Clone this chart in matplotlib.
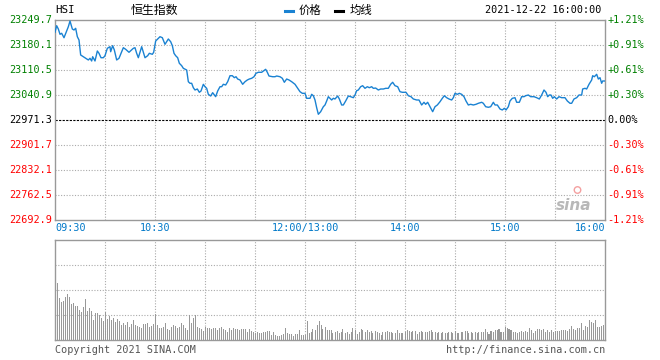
import numpy as np
import matplotlib
matplotlib.use("Agg")
import matplotlib.pyplot as plt

plt.rcParams['font.family'] = ['DejaVu Sans Mono', 'Noto Sans CJK SC']

PREV_CLOSE = 22971.3
W, H = 660, 360

# minutes since 09:30 (lunch break removed, 330 trading minutes)
minutes = [0, 1, 2, 3, 4, 5.4, 7, 8, 9, 10.4, 11.4, 12.4, 13.4, 14.4, 15.4, 17, 18.4, 20, 21, 22,
           22.6, 24, 25.4, 26.4, 27.6, 29, 30, 31.4, 33, 33.4, 34.6, 35.6, 37, 38.4, 39.4, 41, 42.4,
           44.4, 47, 48, 49, 50, 52, 53, 54, 55.6, 56.6, 58.4, 59.2, 60.4, 61.6, 63, 64.4, 66, 67, 68,
           69.4, 70.4, 71.4, 72.4, 73.6, 74.6, 76, 77, 79, 79.6, 80, 81, 82, 83, 84, 85.4, 86.6, 87.6,
           89, 90, 91, 92, 93.4, 94.6, 95.6, 96.4, 97.6, 99, 100, 101, 102.4, 103.6, 105, 106.4, 107.6,
           108.6, 109.6, 111, 112.6, 114, 115.4, 116.6, 118, 119.4, 120.6, 122, 124, 125, 126.4, 127.4,
           128.4, 130.6, 132, 133, 135, 136.4, 137.6, 139, 140.4, 142, 144, 145.4, 147, 148.4, 150,
           151, 153, 154, 155, 156, 157, 158, 159.4, 161, 162, 163, 164, 165, 166, 167, 168, 169.6,
           170.6, 172, 173, 174.4, 176, 177.4, 179, 180, 181, 182, 183.4, 184.6, 186, 187.4, 188.6,
           190, 191, 192.4, 194, 195.4, 197, 198.4, 200, 201.4, 202.6, 204, 205.6, 207, 208.4, 210.6,
           212, 213.6, 215, 217, 218.4, 220, 221.4, 222.4, 223.6, 225, 226.6, 228, 229.4, 231, 232.4,
           233.6, 235, 236.4, 238, 239, 240, 241.4, 242.6, 244, 245.4, 246.6, 248, 249.4, 251, 252.6,
           254, 256, 257, 258.4, 260, 261.4, 263, 264, 265.4, 267, 268.4, 269.6, 270.6, 272, 273,
           274.4, 276, 277, 278.6, 280, 281.4, 282.4, 284, 285.4, 287.4, 289, 290.6, 292, 293.4,
           294.6, 295.6, 296.6, 297.6, 298.6, 299.6, 301, 302.4, 304, 306, 307.4, 309, 310, 311.4,
           313, 314.4, 316, 316.6, 318, 319, 320.4, 322, 322.6, 323.6, 325, 326, 327, 328, 328.6, 330]

prices = [23215.5, 23233.8, 23224.6, 23209.9, 23212.7, 23200.4, 23219.1, 23231.0, 23246.9, 23224.6,
          23221.9, 23226.6, 23203.2, 23194.0, 23152.3, 23147.5, 23143.1, 23138.4, 23143.1, 23135.6,
          23147.5, 23135.6, 23163.4, 23157.0, 23144.7, 23144.7, 23150.3, 23170.9, 23175.4, 23161.4,
          23178.2, 23166.2, 23138.4, 23143.1, 23154.2, 23172.6, 23168.1, 23159.8, 23170.9, 23172.6,
          23157.0, 23144.7, 23175.4, 23159.8, 23144.7, 23150.3, 23157.0, 23154.2, 23159.8, 23191.2,
          23196.8, 23203.2, 23200.4, 23182.0, 23189.3, 23196.8, 23189.3, 23178.2, 23157.0, 23150.3,
          23144.7, 23129.2, 23122.5, 23115.2, 23110.5, 23091.8, 23077.9, 23073.5, 23073.5, 23061.2,
          23054.8, 23057.6, 23048.4, 23052.0, 23070.7, 23064.0, 23059.5, 23042.8, 23038.1, 23047.3,
          23040.9, 23036.2, 23052.0, 23064.0, 23064.0, 23070.7, 23068.8, 23077.9, 23094.6, 23094.6,
          23089.1, 23091.8, 23085.4, 23082.7, 23070.7, 23077.9, 23082.7, 23085.4, 23087.4, 23091.8,
          23101.3, 23104.1, 23104.1, 23107.7, 23112.4, 23104.1, 23093.8, 23091.8, 23091.8, 23093.8,
          23091.8, 23087.4, 23076.3, 23085.4, 23082.7, 23077.9, 23070.7, 23061.2, 23050.1, 23045.6,
          23045.6, 23031.7, 23031.7, 23042.8, 23038.9, 23027.0, 23005.5, 22987.2, 22994.4, 23008.3,
          23013.1, 23024.2, 23036.2, 23031.7, 23027.0, 23031.7, 23029.8, 23038.1, 23029.8, 23013.1,
          23013.1, 23024.2, 23038.1, 23036.2, 23033.4, 23040.9, 23052.9, 23054.8, 23064.0, 23066.8,
          23059.5, 23064.0, 23061.2, 23064.0, 23059.5, 23060.3, 23054.8, 23057.6, 23057.6, 23059.5,
          23059.5, 23070.7, 23076.3, 23066.8, 23064.0, 23050.1, 23048.4, 23048.4, 23038.9, 23036.2,
          23029.8, 23027.0, 23027.0, 23013.1, 23020.6, 23015.0, 23020.6, 23008.3, 22994.4, 23008.3,
          23013.1, 23022.2, 23031.7, 23038.9, 23033.4, 23029.8, 23027.0, 23033.4, 23045.6, 23042.8,
          23045.6, 23042.8, 23036.2, 23024.2, 23013.1, 23015.0, 23013.1, 23015.0, 23017.8, 23020.6,
          23017.8, 23008.3, 23006.7, 23008.3, 23020.6, 23013.1, 23013.1, 23001.9, 22999.2, 23003.9,
          22999.2, 23008.3, 23024.2, 23031.7, 23033.4, 23020.6, 23020.6, 23036.2, 23036.2, 23038.9,
          23040.9, 23036.2, 23036.2, 23033.4, 23029.8, 23040.9, 23054.8, 23048.4, 23036.2, 23040.9,
          23040.9, 23031.7, 23036.2, 23029.8, 23036.2, 23033.4, 23033.4, 23024.2, 23017.8, 23017.8,
          23029.8, 23033.4, 23040.9, 23040.9, 23057.6, 23059.5, 23057.6, 23070.7, 23082.7, 23094.6,
          23091.8, 23098.5, 23085.4, 23089.1, 23073.5, 23079.9, 23079.9]

volumes = [57, 42, 38, 39, 43, 46, 43, 36, 37, 34, 34, 30, 28, 33, 41, 29, 32, 29, 20, 27,
           27, 25, 22, 19, 28, 21, 24, 20, 22, 18, 21, 19, 15, 17, 15, 18, 13, 16, 20, 15,
           14, 13, 12, 16, 16, 17, 13, 14, 16, 26, 15, 12, 12, 13, 17, 11, 10, 13, 15, 14,
           12, 13, 17, 15, 12, 10, 25, 17, 22, 25, 13, 12, 11, 9, 13, 12, 12, 11, 12, 12,
           10, 12, 13, 11, 10, 8, 12, 10, 12, 11, 11, 10, 11, 11, 11, 8, 11, 9, 8, 7,
           8, 7, 7, 8, 8, 9, 9, 5, 8, 5, 4, 4, 5, 6, 12, 7, 6, 6, 4, 6,
           6, 10, 5, 5, 5, 19, 7, 8, 11, 10, 15, 19, 15, 11, 13, 10, 10,
           10, 7, 8, 9, 7, 8, 11, 7, 8, 6, 8, 12, 10, 6, 8, 11, 10, 8, 10, 8,
           9, 7, 9, 8, 7, 5, 8, 8, 9, 8, 8, 7, 7, 10, 7, 7, 7, 8, 10, 9,
           8, 9, 9, 6, 8, 9, 8, 8, 8, 9, 10, 8, 8, 7, 8, 7, 8, 7, 7, 8,
           8, 7, 9, 7, 7, 8, 8, 9, 9, 7, 8, 7, 8, 7, 8, 8, 8, 11, 8, 6,
           9, 8, 10, 10, 11, 8, 8, 13, 12, 11, 10, 8, 8, 7, 8, 9, 8, 9, 8, 12,
           10, 7, 9, 11, 11, 10, 11, 8, 10, 8, 10, 8, 9, 9, 9, 10, 10, 10, 9, 11,
           14, 11, 10, 12, 12, 17, 10, 14, 13, 20, 18, 17, 20, 13, 13, 14, 15]

y_levels = [23249.7, 23180.1, 23110.5, 23040.9, 22971.3, 22901.7, 22832.1, 22762.5, 22692.9]
pct_labels = ["+1.21%", "+0.91%", "+0.61%", "+0.30%", "0.00%", "-0.30%", "-0.61%", "-0.91%", "-1.21%"]
time_ticks = [0, 60, 150, 210, 270, 330]
time_labels = ["09:30", "10:30", "12:00/13:00", "14:00", "15:00", "16:00"]

GREEN = "#008000"
RED = "#ff0000"
BLUE = "#0078c8"
LINE = "#1a82d2"
GRID = "#aaaaaa"
FRAME = "#999999"
FS = 7.3

fig = plt.figure(figsize=(W / 100, H / 100), dpi=100)
fig.patch.set_facecolor("white")

ax = fig.add_axes([55 / W, 1 - 220 / H, 550 / W, 200 / H])
axv = fig.add_axes([55 / W, 1 - 340 / H, 550 / W, 100 / H])

for a in (ax, axv):
    a.set_xlim(0, 330)
    for s in a.spines.values():
        s.set_color(FRAME)
        s.set_linewidth(1.0)
    a.set_xticks([])
    a.set_yticks([])
    for t in range(30, 330, 30):
        a.axvline(t, color=GRID, lw=0.8, ls=(0, (1, 1.5)), zorder=0)

ax.set_ylim(y_levels[-1], y_levels[0])
for lev in y_levels[1:-1]:
    if lev != PREV_CLOSE:
        ax.axhline(lev, color=GRID, lw=0.8, ls=(0, (1, 1.5)), zorder=0)
ax.axhline(PREV_CLOSE, color="black", lw=0.8, ls=(0, (2, 1.2)), zorder=1)

ax.plot(minutes, prices, color=LINE, lw=1.0, zorder=3)

ytr = ax.get_yaxis_transform()
for lev, pl in zip(y_levels, pct_labels):
    c = GREEN if lev > PREV_CLOSE else (RED if lev < PREV_CLOSE else "black")
    ax.text(-0.006, lev, f"{lev:.1f}", transform=ytr, ha="right", va="center",
            color=c, fontsize=FS)
    ax.text(1.004, lev, pl, transform=ytr, ha="left", va="center", color=c, fontsize=FS)

xtr = ax.get_xaxis_transform()
for i, (t, lab) in enumerate(zip(time_ticks, time_labels)):
    ha = "left" if i == 0 else ("right" if i == len(time_ticks) - 1 else "center")
    ax.text(t, -0.042, lab, transform=xtr, ha=ha, va="center", color=BLUE, fontsize=FS)

# sina watermark
ax.text(0.975, 0.075, "sina", transform=ax.transAxes, ha="right", va="center",
        fontsize=11, color="#b8b8b8", style="italic", fontweight="bold",
        family="DejaVu Sans")
ax.scatter([0.95], [0.15], transform=ax.transAxes, s=22, facecolors="none",
           edgecolors="#f4a0a0", linewidths=1.0, zorder=2)

# volume panel
vol_x = (np.arange(len(volumes)) + 1) * 1.2
axv.set_ylim(0, 100)
for lev in (25, 50, 75):
    axv.axhline(lev, color=GRID, lw=0.8, ls=(0, (1, 1.5)), zorder=0)
axv.bar(vol_x, volumes, width=0.6, color="#999999", linewidth=0, zorder=2,
        antialiased=False)

# header
fig.text(55 / W, 1 - 10 / H, "HSI", ha="left", va="center", fontsize=7.8)
fig.text(154 / W, 1 - 10 / H, "恒生指数", ha="center", va="center", fontsize=8.6,
         family=["Noto Sans CJK SC"])
fig.lines.append(plt.Line2D([285 / W, 293 / W], [1 - 11 / H, 1 - 11 / H], color=LINE,
                            lw=2.2, transform=fig.transFigure))
fig.text(299 / W, 1 - 10 / H, "价格", ha="left", va="center", fontsize=8.2,
         family=["Noto Sans CJK SC"])
fig.lines.append(plt.Line2D([335 / W, 343 / W], [1 - 11 / H, 1 - 11 / H], color="black",
                            lw=2.2, transform=fig.transFigure))
fig.text(350 / W, 1 - 10 / H, "均线", ha="left", va="center", fontsize=8.2,
         family=["Noto Sans CJK SC"])
fig.text(601 / W, 1 - 10 / H, "2021-12-22 16:00:00", ha="right", va="center", fontsize=FS)

# footer
fig.text(55 / W, 1 - 350 / H, "Copyright 2021 SINA.COM", ha="left", va="center",
         fontsize=FS, color="#555555")
fig.text(605 / W, 1 - 350 / H, "http://finance.sina.com.cn", ha="right", va="center",
         fontsize=FS, color="#555555")

fig.savefig("out.png", dpi=100)
